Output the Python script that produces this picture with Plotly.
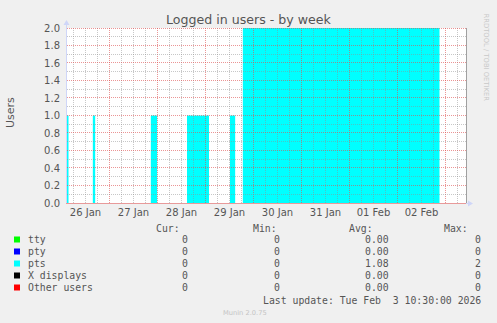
import pandas as pd
import plotly.graph_objects as go

# ---------------- data ----------------
title_text = "Logged in users - by week"
y_label = "Users"

# pts series: change points (step series, value holds until next time)
pts_time = ["2026-01-26 02:45", "2026-01-26 03:30", "2026-01-26 15:40", "2026-01-26 16:50",
            "2026-01-27 20:40", "2026-01-27 23:50", "2026-01-28 14:45", "2026-01-29 01:45",
            "2026-01-29 12:15", "2026-01-29 14:50", "2026-01-29 18:40", "2026-02-02 21:00",
            "2026-02-03 10:45"]
pts_value = [1, 0, 1, 0, 1, 0, 1, 0, 1, 0, 2, 0, 0]

zero_time = ["2026-01-26 02:45", "2026-02-03 10:45"]
tty_value = [0, 0]
pty_value = [0, 0]
xdisp_value = [0, 0]
other_value = [0, 0]

series_names = ["tty", "pty", "pts", "X displays", "Other users"]
series_colors = ["#00FF00", "#0000FF", "#00FFFF", "#000000", "#FF0000"]
cur_vals = ["0", "0", "0", "0", "0"]
min_vals = ["0", "0", "0", "0", "0"]
avg_vals = ["0.00", "0.00", "1.08", "0.00", "0.00"]
max_vals = ["0", "0", "2", "0", "0"]
col_headers = ["Cur:", "Min:", "Avg:", "Max:"]
last_update = "Last update: Tue Feb \u00a03 10:30:00 2026"
footer = "Munin 2.0.75"
side_text = "RRDTOOL / TOBI OETIKER"

x_range = ["2026-01-26 02:45", "2026-02-03 10:45"]
y_range = [0, 2]
y_major_step, y_minor_step = 0.2, 0.1

# ---------------- layout helpers ----------------
W, H = 497, 323
L, R, T, B = 67, 30, 28, 120
PW, PH = W - L - R, H - T - B


def px(x):
    return (x - L) / PW


def py(y):
    return (T + PH - y) / PH


def snap_y(v):
    # put a 1px grid line on a pixel centre, as rrdtool does
    pix = (v - y_range[0]) / (y_range[1] - y_range[0]) * PH
    pix = int(pix) + 0.5 if pix > 0.5 else 0.5
    return y_range[0] + pix / PH * (y_range[1] - y_range[0])


FONT = "DejaVu Sans"
MONO = "DejaVu Sans Mono"
TXT = "#555555"

fig = go.Figure()

stack_series = [
    ("tty", zero_time, tty_value, "#00FF00"),
    ("pty", zero_time, pty_value, "#0000FF"),
    ("pts", pts_time, pts_value, "#00FFFF"),
    ("X displays", zero_time, xdisp_value, "#000000"),
    ("Other users", zero_time, other_value, "#FF0000"),
]
for name, tx, vy, col in stack_series:
    fig.add_trace(go.Scatter(
        x=tx, y=vy, name=name, mode="lines", line=dict(shape="hv", width=0, color=col),
        fill="tozeroy", fillcolor=col, showlegend=False, hoverinfo="skip"))

major_grid = "rgba(222,79,79,0.6)"
minor_grid = "rgba(143,143,143,0.5)"
DASH = "1px,1px"

fig.update_layout(
    width=W, height=H,
    margin=dict(l=L, r=R, t=T, b=B, pad=0),
    paper_bgcolor="#F0F0F0", plot_bgcolor="#FFFFFF",
    showlegend=False,
    font=dict(family=FONT, color=TXT, size=10),
    xaxis=dict(
        type="date", range=x_range, tick0="2026-01-26", dtick=86400000,
        ticklabelmode="period", tickformat="%d %b",
        showgrid=False,
        showline=True, linecolor="#e89a9a", linewidth=1,
        ticks="", tickfont=dict(size=10, color=TXT, family=FONT),
        zeroline=False, fixedrange=True,
    ),
    yaxis=dict(
        range=y_range, tick0=0, dtick=y_major_step, tickformat=".1f",
        showgrid=False,
        showline=True, linecolor="#CFD6F8", linewidth=1,
        ticks="", ticklabelstandoff=4,
        tickfont=dict(size=10, color=TXT, family=FONT),
        zeroline=False, fixedrange=True,
    ),
)

shapes = []
# grid drawn above the data (rrdtool style)
x0, x1 = pd.Timestamp(x_range[0]), pd.Timestamp(x_range[1])
for t in pd.date_range(x0.ceil("6h"), x1, freq="6h"):
    is_major = (t.hour == 0)
    shapes.append(dict(type="line", layer="above", xref="x", yref="paper",
                       x0=t.strftime("%Y-%m-%d %H:%M"), x1=t.strftime("%Y-%m-%d %H:%M"),
                       y0=0, y1=1,
                       line=dict(color=major_grid if is_major else minor_grid,
                                 width=1, dash=DASH)))
n_minor = int(round((y_range[1] - y_range[0]) / y_minor_step))
for k in range(1, n_minor + 1):
    v = y_range[0] + k * y_minor_step
    is_major = (k % 2 == 0)
    yy = snap_y(v) if k < n_minor else v - (0.5 / PH) * (y_range[1] - y_range[0])
    shapes.append(dict(type="line", layer="above", xref="paper", yref="y",
                       x0=0, x1=1, y0=yy, y1=yy,
                       line=dict(color=major_grid if is_major else minor_grid,
                                 width=1, dash=DASH)))

ann = []
ann.append(dict(text=title_text, x=px(248.5), y=py(19), xref="paper", yref="paper",
                showarrow=False, xanchor="center", yanchor="middle",
                font=dict(size=12.6, color=TXT, family=FONT)))
ann.append(dict(text=y_label, x=px(10), y=py(113), xref="paper", yref="paper",
                showarrow=False, xanchor="center", yanchor="middle", textangle=-90,
                font=dict(size=11, color=TXT, family=FONT)))
ann.append(dict(text=side_text, x=px(485.5), y=py(58), xref="paper", yref="paper",
                showarrow=False, xanchor="center", yanchor="middle", textangle=90,
                font=dict(size=6.8, color="#c8c8c8", family=FONT)))
ann.append(dict(text=footer, x=px(245), y=py(312.5), xref="paper", yref="paper",
                showarrow=False, xanchor="center", yanchor="middle",
                font=dict(size=6.7, color="#c4c4c4", family=FONT)))

LFS = 9.8
header_right = [182, 278.5, 374.7, 469.5]
value_right = [190, 282, 391, 483]
for h, xr in zip(col_headers, header_right):
    ann.append(dict(text=h, x=px(xr), y=py(228), xref="paper", yref="paper",
                    showarrow=False, xanchor="right", yanchor="middle",
                    font=dict(size=LFS, color=TXT, family=MONO)))

for i, name in enumerate(series_names):
    yc = 239.5 + 12 * i
    shapes.append(dict(type="rect", xref="paper", yref="paper",
                       x0=px(14), x1=px(20), y0=py(yc - 3), y1=py(yc + 3),
                       fillcolor=series_colors[i], line=dict(width=0)))
    ann.append(dict(text=name, x=px(26), y=py(yc), xref="paper", yref="paper",
                    showarrow=False, xanchor="left", yanchor="middle",
                    font=dict(size=LFS, color=TXT, family=MONO)))
    for vals, xr in zip([cur_vals, min_vals, avg_vals, max_vals], value_right):
        ann.append(dict(text=vals[i], x=px(xr), y=py(yc), xref="paper", yref="paper",
                        showarrow=False, xanchor="right", yanchor="middle",
                        font=dict(size=LFS, color=TXT, family=MONO)))

ann.append(dict(text=last_update, x=px(483), y=py(300), xref="paper", yref="paper",
                showarrow=False, xanchor="right", yanchor="middle",
                font=dict(size=LFS, color=TXT, family=MONO)))

# right frame line
shapes.append(dict(type="line", xref="paper", yref="paper", layer="above",
                   x0=px(466.5), x1=px(466.5), y0=py(203), y1=py(28),
                   line=dict(color="#a0a0a0", width=1)))
# axis arrows
shapes.append(dict(type="line", xref="paper", yref="paper",
                   x0=px(66.5), x1=px(66.5), y0=py(28), y1=py(22),
                   line=dict(color="#CFD6F8", width=1)))
shapes.append(dict(type="path", xref="paper", yref="paper",
                   path=f"M {px(63.5)} {py(25)} L {px(69.5)} {py(25)} L {px(66.5)} {py(20)} Z",
                   fillcolor="#CFD6F8", line=dict(width=0)))
shapes.append(dict(type="line", xref="paper", yref="paper",
                   x0=px(466), x1=px(470), y0=py(203.5), y1=py(203.5),
                   line=dict(color="#CFD6F8", width=1)))
shapes.append(dict(type="path", xref="paper", yref="paper",
                   path=f"M {px(468)} {py(200.5)} L {px(468)} {py(206.5)} L {px(473)} {py(203.5)} Z",
                   fillcolor="#CFD6F8", line=dict(width=0)))

fig.update_layout(annotations=ann, shapes=shapes)
fig.write_html("out.html")
